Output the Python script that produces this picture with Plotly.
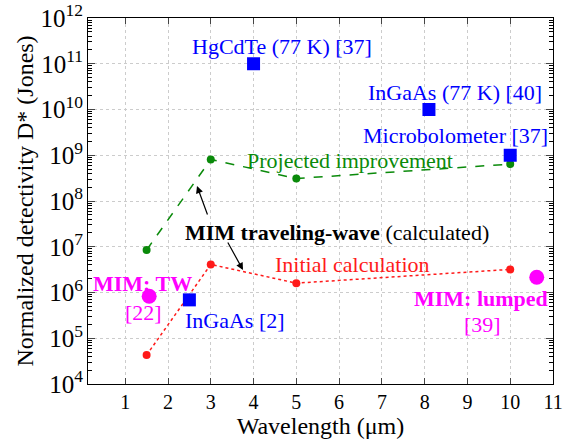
import plotly.graph_objects as go

# Data
proj_x = [1.5, 3, 5, 10]
proj_y = [8.5e6, 8.1e8, 3.1e8, 6.4e8]
init_x = [1.5, 3, 5, 10]
init_y = [4.3e4, 4.1e6, 1.6e6, 3.2e6]
ref_names = ["HgCdTe (77 K) [37]", "InGaAs (77 K) [40]", "Microbolometer [37]", "InGaAs [2]"]
ref_x = [4, 8.1, 10, 2.5]
ref_y = [1e11, 1e10, 1e9, 6.9e5]
mim_names = ["MIM: TW", "MIM: lumped"]
mim_x = [1.56, 10.62]
mim_y = [8.3e5, 2.15e6]

FONT = "Liberation Serif"
GREEN = "#0a8a0a"
RED = "#ff1a1a"
BLUE = "#0000ff"
MAG = "#ff00ff"

L, R, T, B = 88, 553, 18, 384
W, H = R - L, B - T

fig = go.Figure()
fig.add_trace(go.Scatter(x=proj_x, y=proj_y, mode="lines+markers",
                         line=dict(color=GREEN, dash="dash", width=1.5),
                         marker=dict(color=GREEN, size=8)))
fig.add_trace(go.Scatter(x=init_x, y=init_y, mode="lines+markers",
                         line=dict(color=RED, dash="dot", width=1.5),
                         marker=dict(color=RED, size=8)))
fig.add_trace(go.Scatter(x=ref_x, y=ref_y, mode="markers",
                         marker=dict(color=BLUE, size=13, symbol="square")))
fig.add_trace(go.Scatter(x=mim_x, y=mim_y, mode="markers",
                         marker=dict(color=MAG, size=15)))

ann = [
    dict(x=282, y=47, text="HgCdTe (77 K) [37]", color=BLUE),
    dict(x=455, y=92, text="InGaAs (77 K) [40]", color=BLUE),
    dict(x=455, y=135, text="Microbolometer [37]", color=BLUE),
    dict(x=350, y=160, text="Projected improvement", color=GREEN),
    dict(x=337, y=232, text="<b>MIM traveling-wave</b> (calculated)", color="black"),
    dict(x=352, y=264, text="Initial calculation", color=RED),
    dict(x=142, y=283, text="<b>MIM: TW</b>", color=MAG),
    dict(x=143, y=312, text="[22]", color=MAG),
    dict(x=235, y=320, text="InGaAs [2]", color=BLUE),
    dict(x=481, y=298, text="<b>MIM: lumped</b>", color=MAG),
    dict(x=482, y=324, text="[39]", color=MAG),
]
annotations = []
for a in ann:
    annotations.append(dict(x=(a["x"] - L) / W, y=(B - a["y"]) / H, xref="paper", yref="paper",
                            text=a["text"], showarrow=False, xanchor="center", yanchor="middle",
                            font=dict(family=FONT, size=22, color=a["color"])))

for (tx, ty, hx, hy) in [(208, 216, 197, 186), (227, 241, 243, 270)]:
    annotations.append(dict(x=(hx - L) / W, y=(B - hy) / H, xref="paper", yref="paper",
                            ax=tx - hx, ay=ty - hy, axref="pixel", ayref="pixel",
                            text="", showarrow=True,
                            arrowhead=2, arrowsize=1.2, arrowwidth=1.2, arrowcolor="black"))

fig.update_layout(
    width=585, height=442,
    margin=dict(l=L, r=585 - R, t=T, b=442 - B),
    paper_bgcolor="white", plot_bgcolor="white",
    showlegend=False,
    font=dict(family=FONT, size=20, color="black"),
    annotations=annotations,
)

fig.update_xaxes(range=[0.13, 11], tickvals=list(range(1, 12)), ticks="inside", ticklen=6,
                 automargin=False,
                 showline=True, linecolor="black", linewidth=1, mirror="ticks",
                 showgrid=True, gridcolor="#cccccc", griddash="dot", zeroline=False,
                 title=dict(text="Wavelength (μm)", standoff=4, font=dict(family=FONT, size=24)),
                 tickfont=dict(family=FONT, size=20))
fig.update_yaxes(type="log", range=[3.9999, 12.0001], dtick=1, exponentformat="power",
                 ticks="inside", ticklen=7, ticklabeloverflow="allow", automargin=False,
                 minor=dict(ticks="inside", ticklen=4, tickcolor="black", dtick="D1", showgrid=False),
                 showline=True, linecolor="black", linewidth=1, mirror="ticks",
                 showgrid=True, gridcolor="#cccccc", griddash="dot", zeroline=False,
                 title=dict(text="Normalized detectivity D* (Jones)", standoff=0, font=dict(family=FONT, size=24)),
                 tickfont=dict(family=FONT, size=20))

fig.write_html("out.html")
